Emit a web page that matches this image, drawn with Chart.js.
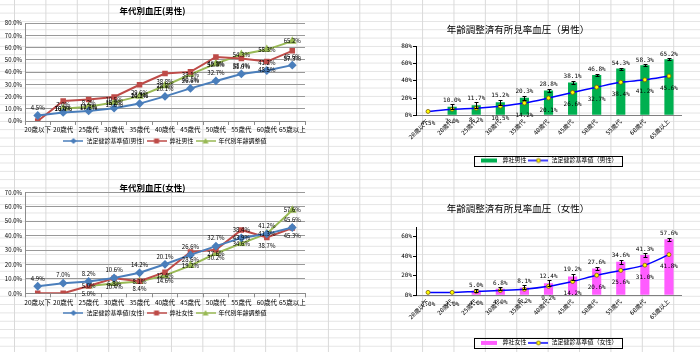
<!DOCTYPE html>
<html>
<head>
<meta charset="utf-8">
<script src="https://cdn.jsdelivr.net/npm/chart.js@4"></script>
<style>
html, body { margin: 0; padding: 0; }
body {
  width: 700px; height: 352px; position: relative; overflow: hidden;
  background-color: #fff;
  background-image: linear-gradient(to right, #d9d9d9 1px, transparent 1px),
                    linear-gradient(to bottom, #e3e3e3 1px, transparent 1px);
  background-size: 31.4px 100%, 100% 8.33px;
  background-position: 14px 0, 0 4.3px;
}
canvas { position: absolute; }
</style>
</head>
<body>
<canvas id="maleLine" width="345" height="175" style="left:0;top:0"></canvas>
<canvas id="femaleLine" width="345" height="177" style="left:0;top:175px"></canvas>
<canvas id="maleBar" width="345" height="175" style="left:355px;top:0"></canvas>
<canvas id="femaleBar" width="345" height="190" style="left:355px;top:175px"></canvas>
<script>
// 年代区分
const ages = ['20歳以下', '20歳代', '25歳代', '30歳代', '35歳代', '40歳代', '45歳代', '50歳代', '55歳代', '60歳代', '65歳以上'];

// 男性
const maleStd = [4.5, 7.0, 8.2, 10.5, 14.2, 20.1, 26.6, 32.7, 38.4, 41.2, 45.6];
const maleOurs = [0, 16.4, 17.6, 19.6, 29.6, 38.8, 40.1, 52.3, 51.0, 48.5, 57.3];
const maleAdj = [null, 10.0, 11.7, 15.2, 20.3, 28.8, 38.1, 46.8, 54.3, 58.3, 65.2];
const maleErr = [null, 3.0, 3.5, 3.0, 2.5, 2.0, 2.0, 1.5, 1.2, 1.0, 1.0];

// 女性
const femStd = [4.9, 7.0, 8.2, 10.6, 14.2, 20.1, 26.6, 32.7, 38.4, 41.2, 45.6];
const femOurs = [0, 0, 5.0, 10.4, 8.4, 14.6, 28.6, 30.2, 43.9, 38.7, 45.3];
const femAdj = [null, null, 5.0, 6.8, 8.1, 12.4, 19.2, 27.6, 34.6, 41.3, 57.6];
const femErr = [null, null, 1.5, 1.5, 2.0, 3.0, 3.0, 2.0, 2.0, 2.0, 1.5];
const femStdAdj = [3.0, 3.0, 4.0, 4.9, 6.2, 9.2, 14.2, 20.6, 25.6, 31.0, 41.8];

const JP = "'Noto Sans CJK JP', sans-serif";
const MONO = "'DejaVu Sans Mono', 'Noto Sans CJK JP', monospace";
Chart.defaults.font.family = JP;
Chart.defaults.color = '#000';

// 凡例アイコン（線＋マーカー）
function lineIcon(color, marker, fill, stroke) {
  const c = document.createElement('canvas');
  c.width = 20; c.height = 8;
  const g = c.getContext('2d');
  g.strokeStyle = color; g.lineWidth = 1.5;
  g.beginPath(); g.moveTo(0, 4); g.lineTo(20, 4); g.stroke();
  g.fillStyle = fill || color;
  g.beginPath();
  if (marker === 'rectRot') { g.moveTo(10, 1); g.lineTo(13, 4); g.lineTo(10, 7); g.lineTo(7, 4); }
  else if (marker === 'rect') { g.rect(7.5, 1.5, 5, 5); }
  else if (marker === 'triangle') { g.moveTo(10, 1); g.lineTo(13, 6.5); g.lineTo(7, 6.5); }
  else { g.arc(10, 4, 2, 0, Math.PI * 2); }
  g.closePath(); g.fill();
  if (stroke) { g.strokeStyle = stroke; g.lineWidth = 0.8; g.stroke(); }
  return c;
}
function boxIcon(color) {
  const c = document.createElement('canvas');
  c.width = 16; c.height = 8;
  const g = c.getContext('2d');
  g.fillStyle = color; g.fillRect(0, 2, 16, 4);
  return c;
}

// 値ラベル・誤差棒
const valueLabels = {
  id: 'valueLabels',
  afterDatasetsDraw(chart) {
    const ctx = chart.ctx;
    const ys = chart.scales.y;
    chart.data.datasets.forEach((ds, i) => {
      const meta = chart.getDatasetMeta(i);
      ctx.save();
      if (ds.errs) {
        ctx.strokeStyle = '#000'; ctx.lineWidth = 1;
        meta.data.forEach((el, j) => {
          const v = ds.data[j], e = ds.errs[j];
          if (v == null || !e) return;
          const t = Math.round(ys.getPixelForValue(v + e)) + 0.5;
          const b = Math.round(ys.getPixelForValue(v - e)) + 0.5;
          const x = Math.round(el.x) + 0.5;
          ctx.beginPath();
          ctx.moveTo(x, t); ctx.lineTo(x, b);
          ctx.moveTo(x - 2, t); ctx.lineTo(x + 2, t);
          ctx.moveTo(x - 2, b); ctx.lineTo(x + 2, b);
          ctx.stroke();
        });
      }
      ctx.font = ds.labelFont;
      ctx.fillStyle = '#000'; ctx.textAlign = 'center'; ctx.textBaseline = 'middle';
      meta.data.forEach((el, j) => {
        const v = ds.data[j];
        if (v == null || v === 0) return;
        let ly = el.y + ds.labelOffset;
        if (ds.errs) ly = ys.getPixelForValue(v + (ds.errs[j] || 0)) + ds.labelOffset;
        ctx.fillText(v.toFixed(1) + '%', el.x, ly);
      });
      ctx.restore();
    });
  }
};

const legendFrame = {
  id: 'legendFrame',
  afterDraw(chart, args, opts) {
    if (!opts.show) return;
    const boxes = chart.legend.legendHitBoxes;
    if (!boxes || !boxes.length) return;
    const l = boxes[0].left - 5, r = boxes[boxes.length - 1].left + boxes[boxes.length - 1].width + 5;
    const t = boxes[0].top - 2, h = boxes[0].height + 4;
    const ctx = chart.ctx;
    ctx.save();
    ctx.strokeStyle = '#000'; ctx.lineWidth = 1;
    ctx.strokeRect(Math.round(l) + 0.5, Math.round(t) + 0.5, Math.round(r - l), Math.round(h));
    ctx.restore();
  }
};

function legendOpts(icons, font, pad) {
  return {
    position: 'bottom', fullSize: false,
    labels: {
      usePointStyle: true, pointStyleWidth: 20, boxHeight: 6, padding: pad,
      font: { size: 6, family: font }, color: '#000',
      sort: (a, b) => a.datasetIndex - b.datasetIndex,
      generateLabels(chart) {
        const items = Chart.defaults.plugins.legend.labels.generateLabels(chart);
        items.forEach(it => { it.pointStyle = icons[it.datasetIndex]; });
        return items;
      }
    }
  };
}

function lineOptions(title, yMax, t) {
  return {
    responsive: false, animation: false,
    layout: { padding: { left: 0, right: 40, top: 0, bottom: t.bottom } },
    plugins: {
      title: { display: true, text: title, color: '#000',
        font: { size: 8.5, weight: 'bold', lineHeight: 1 }, padding: { top: t.tTop, bottom: t.tBottom } },
      legend: legendOpts(t.icons, JP, 2),
      tooltip: { enabled: false }
    },
    scales: {
      x: {
        offset: true,
        grid: { offset: true, drawOnChartArea: false, tickLength: 4, color: '#8c8c8c' },
        border: { color: '#8c8c8c' },
        ticks: { font: { size: 6.5 }, color: '#000', padding: 1, maxRotation: 0, autoSkip: false },
        afterFit(s) { s.height = t.xh; }
      },
      y: {
        min: 0, max: yMax,
        grid: { color: '#999999', drawTicks: false },
        border: { color: '#8c8c8c' },
        ticks: { stepSize: 10, font: { size: 6 }, color: '#000', padding: 3, callback: v => v.toFixed(1) + '%' },
        afterFit(s) { s.width = 25; }
      }
    }
  };
}

function lineSets(std, ours, adj, names) {
  const lf = '6px ' + JP;
  return [
    { label: names[0], data: std, borderColor: '#4a7ebb', backgroundColor: '#4a7ebb', borderWidth: 2,
      pointStyle: 'rectRot', pointRadius: 3, labelOffset: -8, labelFont: lf },
    { label: names[1], data: ours, borderColor: '#be4b48', backgroundColor: '#be4b48', borderWidth: 2,
      pointStyle: 'rect', pointRadius: 2.5, labelOffset: 8, labelFont: lf },
    { label: names[2], data: adj, borderColor: '#98b954', backgroundColor: '#98b954', borderWidth: 2,
      pointStyle: 'triangle', pointRadius: 3, labelOffset: 0, labelFont: lf }
  ];
}

const leftIcons = [lineIcon('#4a7ebb', 'rectRot'), lineIcon('#be4b48', 'rect'), lineIcon('#98b954', 'triangle')];

new Chart(document.getElementById('maleLine'), {
  type: 'line',
  data: { labels: ages, datasets: lineSets(maleStd, maleOurs, maleAdj, ['法定健診基準値(男性)', '弊社男性', '年代別年齢調整値']) },
  options: lineOptions('年代別血圧(男性)', 80, { tTop: 6.5, tBottom: 8, xh: 15, bottom: 21, icons: leftIcons }),
  plugins: [valueLabels]
});

new Chart(document.getElementById('femaleLine'), {
  type: 'line',
  data: { labels: ages, datasets: lineSets(femStd, femOurs, femAdj, ['法定健診基準値(女性)', '弊社女性', '年代別年齢調整値']) },
  options: lineOptions('年代別血圧(女性)', 70, { tTop: 8.8, tBottom: 0, xh: 14.7, bottom: 26, icons: leftIcons }),
  plugins: [valueLabels]
});

function barOptions(title, yMax, t) {
  return {
    responsive: false, animation: false,
    layout: { padding: { left: 0, right: 19, top: 0, bottom: t.bottom } },
    plugins: {
      title: { display: true, text: title, color: '#000',
        font: { size: 9.5, weight: 'normal', lineHeight: 1 }, padding: { top: t.tTop, bottom: t.tBottom } },
      legend: legendOpts(t.icons, MONO, 2),
      legendFrame: { show: true },
      tooltip: { enabled: false }
    },
    scales: {
      x: {
        grid: { drawOnChartArea: false, drawTicks: false },
        border: { color: '#808080' },
        ticks: { font: { size: 6, family: MONO }, color: '#000', padding: 3, minRotation: 45, maxRotation: 45, autoSkip: false },
        afterFit(s) { s.height = t.xh; }
      },
      y: {
        min: 0, max: yMax,
        grid: { drawOnChartArea: false, tickLength: 3, color: '#000' },
        border: { color: '#000' },
        ticks: { stepSize: 10, font: { size: 6, family: MONO }, color: '#000', padding: 1, callback: v => v + '%' },
        afterFit(s) { s.width = 61; }
      }
    }
  };
}

function barSets(bars, errs, line, barColor, names) {
  const lf = '6px ' + MONO;
  return [
    { type: 'bar', label: names[0], data: bars, backgroundColor: barColor, barPercentage: 0.38, categoryPercentage: 1,
      errs: errs, labelOffset: -4, labelFont: lf, order: 2 },
    { type: 'line', label: names[1], data: line, borderColor: '#0000ff', borderWidth: 1.5, tension: 0.3,
      pointStyle: 'circle', pointRadius: 2, pointBackgroundColor: '#ffff00', pointBorderColor: '#7f6000', pointBorderWidth: 0.8,
      labelOffset: 12, labelFont: lf, order: 1 }
  ];
}

new Chart(document.getElementById('maleBar'), {
  type: 'bar',
  data: { labels: ages, datasets: barSets(maleAdj, maleErr, maleStd, '#00b050', ['弊社男性', '法定健診基準値（男性）']) },
  options: barOptions('年齢調整済有所見率血圧（男性）', 80,
    { tTop: 24.5, tBottom: 12.5, xh: 40.2, bottom: 1.5,
      icons: [boxIcon('#00b050'), lineIcon('#0000ff', 'circle', '#ffff00', '#7f6000')] }),
  plugins: [valueLabels, legendFrame]
});

new Chart(document.getElementById('femaleBar'), {
  type: 'bar',
  data: { labels: ages, datasets: barSets(femAdj, femErr, femStdAdj, '#ff5cff', ['弊社女性', '法定健診基準値（女性）']) },
  options: barOptions('年齢調整済有所見率血圧（女性）', 70,
    { tTop: 28.5, tBottom: 14.2, xh: 42.6, bottom: 190 - 120.3 - 42.6 - 18,
      icons: [boxIcon('#ff5cff'), lineIcon('#0000ff', 'circle', '#ffff00', '#7f6000')] }),
  plugins: [valueLabels, legendFrame]
});
</script>
</body>
</html>
